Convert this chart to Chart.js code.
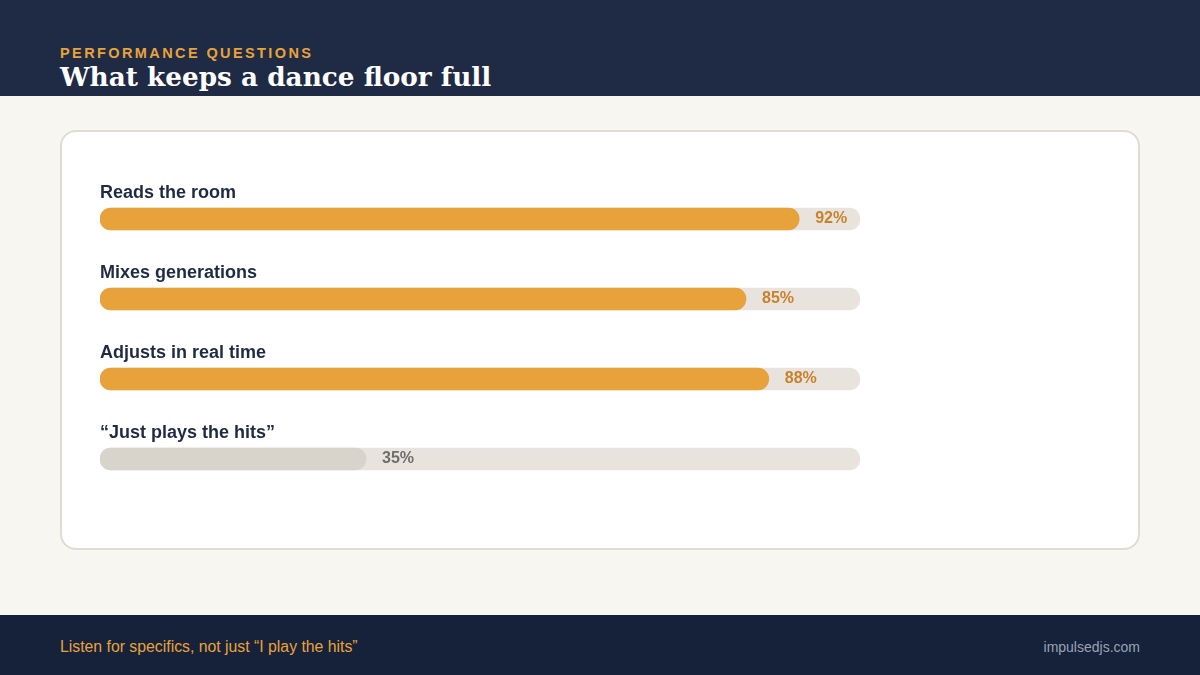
<!DOCTYPE html>
<html><head><meta charset="utf-8">
<script src="https://cdn.jsdelivr.net/npm/chart.js@4/dist/chart.umd.min.js"></script>
<style>
html,body{margin:0;padding:0;width:1200px;height:675px;overflow:hidden;background:#f8f6f1;font-family:"Liberation Sans",Arial,sans-serif;}
#hdr{position:absolute;left:0;top:0;width:1200px;height:96px;background:#1f2a45;}
#kicker{position:absolute;left:60px;top:45px;font:bold 14.5px "Liberation Sans",Arial,sans-serif;letter-spacing:2.4px;color:#e8a33a;white-space:nowrap;}
#title{position:absolute;left:60px;top:61px;font:bold 26.3px "DejaVu Serif",serif;color:#ffffff;white-space:nowrap;}
#card{position:absolute;left:60px;top:130px;width:1076px;height:416px;background:#fff;border:2px solid #e0dcd4;border-radius:16px;}
#cv{position:absolute;left:60px;top:130px;}
#ftr{position:absolute;left:0;top:615px;width:1200px;height:60px;background:#16213a;}
#fl{position:absolute;left:60px;top:23px;font:15.8px "Liberation Sans",Arial,sans-serif;color:#e8a33a;white-space:nowrap;}
#fr{position:absolute;right:60px;top:24px;font:14px "Liberation Sans",Arial,sans-serif;color:#9aa3b5;white-space:nowrap;}
</style></head>
<body>
<div id="hdr"><div id="kicker">PERFORMANCE QUESTIONS</div><div id="title">What keeps a dance floor full</div></div>
<div id="card"></div>
<canvas id="cv" width="1080" height="420" style="width:1080px;height:420px"></canvas>
<div id="ftr"><div id="fl">Listen for specifics, not just “I play the hits”</div><div id="fr">impulsedjs.com</div></div>
<script>
const categories = ["Reads the room", "Mixes generations", "Adjusts in real time", "“Just plays the hits”"];
const values = [92, 85, 88, 35];
const trackValues = [100, 100, 100, 100];
const barColors = ["#e8a23c", "#e8a23c", "#e8a23c", "#d8d4cc"];
const valueColors = ["#c9822b", "#c9822b", "#c9822b", "#6e6e6e"];

const labelPlugin = {
  id: 'labels',
  afterDatasetsDraw(chart) {
    const ctx = chart.ctx;
    const xs = chart.scales.x, ys = chart.scales.y;
    ctx.save();
    categories.forEach((c, i) => {
      const y = ys.getPixelForValue(i);
      ctx.font = 'bold 18px "Liberation Sans", Arial, sans-serif';
      ctx.fillStyle = '#1f2a44';
      ctx.textBaseline = 'middle';
      ctx.textAlign = 'left';
      ctx.fillText(c, xs.getPixelForValue(0), y - 26);
      ctx.font = 'bold 16px "Liberation Sans", Arial, sans-serif';
      ctx.fillStyle = valueColors[i];
      ctx.fillText(values[i] + '%', xs.getPixelForValue(values[i]) + 16, y);
    });
    ctx.restore();
  }
};

new Chart(document.getElementById('cv'), {
  type: 'bar',
  data: {
    labels: categories,
    datasets: [
      { data: values, backgroundColor: barColors, barThickness: 22, borderRadius: 11, borderSkipped: false, order: 1 },
      { data: trackValues, backgroundColor: '#e8e4dd', barThickness: 22, borderRadius: 11, borderSkipped: false, order: 2 }
    ]
  },
  options: {
    indexAxis: 'y',
    responsive: false,
    animation: false,
    grouped: false,
    layout: { padding: { left: 40, right: 280, top: 49, bottom: 51 } },
    scales: {
      x: { display: false, min: 0, max: 100 },
      y: { display: false }
    },
    plugins: { legend: { display: false }, tooltip: { enabled: false } }
  },
  plugins: [labelPlugin]
});
</script>
</body></html>
